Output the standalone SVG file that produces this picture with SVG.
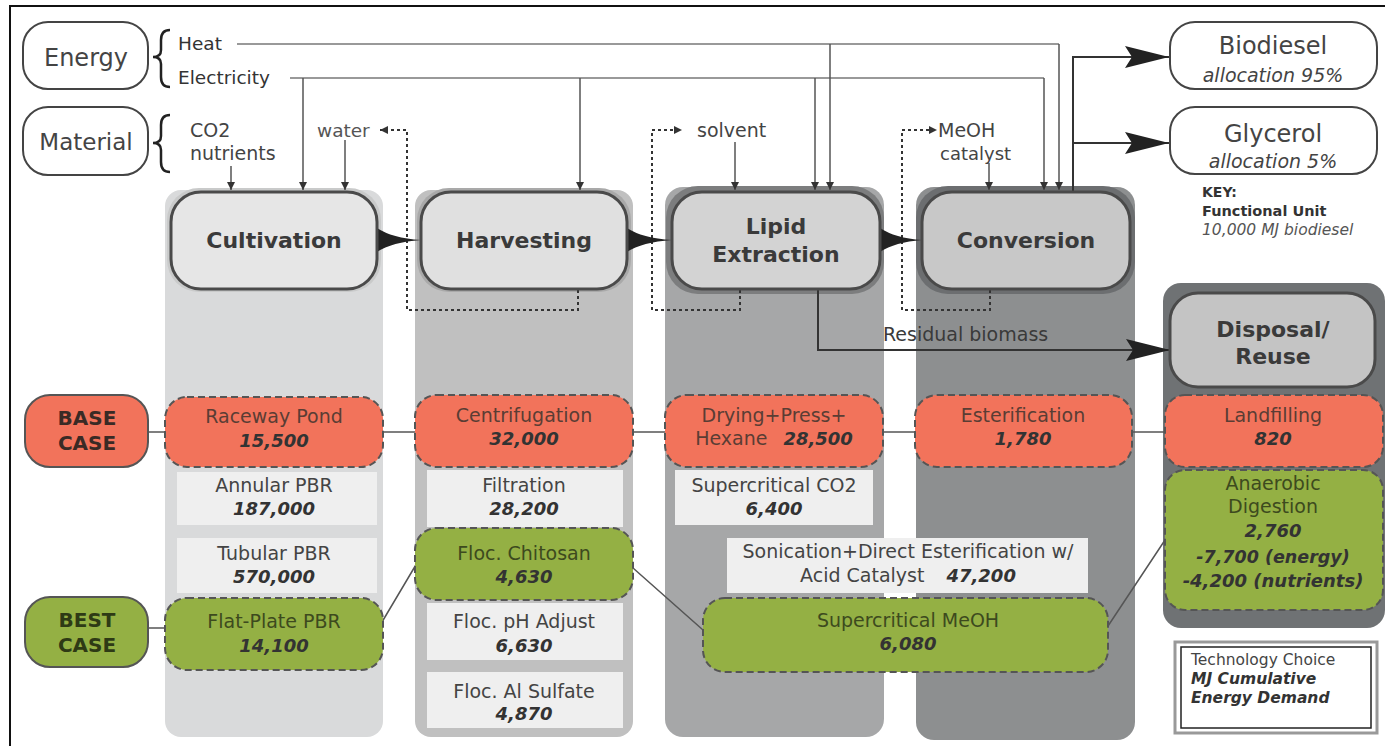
<svg xmlns="http://www.w3.org/2000/svg" width="1387" height="746" viewBox="0 0 1387 746">
<style>
text{font-family:"DejaVu Sans","Liberation Sans",sans-serif;fill:#333}
.c{text-anchor:middle}
.proc{font-weight:bold;font-size:22px;fill:#3a3a3a}
.lbl{font-size:19px;fill:#444}
.num{font-size:18px;font-weight:bold;font-style:italic;fill:#333}
.pbox{stroke:#4a4a4a;stroke-width:3}
.dash{stroke:#555;stroke-width:2;stroke-dasharray:7 4}
.red{fill:#f2735b}
.grn{fill:#94b044}
.lt{fill:#efefef}
.outl{fill:#fff;stroke:#444;stroke-width:2}
.feed{fill:none;stroke:#999;stroke-width:2}
.drop{fill:none;stroke:#555;stroke-width:1.5;marker-end:url(#sm)}
.rec{fill:none;stroke:#333;stroke-width:2;stroke-dasharray:3 3}
.flow{fill:none;stroke:#333;stroke-width:2}
.row{fill:none;stroke:#555;stroke-width:1.5}
</style>
<defs>
<marker id="sm" viewBox="0 0 8 8" refX="8" refY="4" markerWidth="8" markerHeight="8" markerUnits="userSpaceOnUse" orient="auto"><path d="M0,0 L8,4 L0,8 Z" fill="#333"/></marker>
<marker id="big" viewBox="0 0 44 22" refX="44" refY="11" markerWidth="44" markerHeight="22" markerUnits="userSpaceOnUse" orient="auto"><path d="M0,0 L44,11 L0,22 L7,11 Z" fill="#222"/></marker>
</defs>
<rect width="1387" height="746" fill="#fff"/>
<path d="M10,746 V6 H1385" fill="none" stroke="#111" stroke-width="2"/>

<!-- column backgrounds -->
<g id="columns">
<rect x="165" y="190" width="218" height="547" rx="16" fill="#d9dadb"/>
<rect x="415" y="190" width="218" height="547" rx="16" fill="#c0c0c0"/>
<rect x="665" y="187" width="219" height="550" rx="18" fill="#a6a7a8"/>
<rect x="916" y="187" width="219" height="553" rx="18" fill="#8d8f90"/>
<rect x="167" y="188" width="214" height="104" rx="32" fill="#c9caca"/>
<rect x="417" y="188" width="214" height="104" rx="32" fill="#a9a9a9"/>
<rect x="666" y="186" width="218" height="108" rx="32" fill="#7c7d7e"/>
<rect x="916" y="186" width="219" height="108" rx="32" fill="#6c6e70"/>
<rect x="1163" y="283" width="222" height="345" rx="18" fill="#6f7274"/>
</g>

<g id="connectors">
<!-- energy feeds -->
<path class="feed" d="M237,44 H1059"/>
<path class="feed" d="M290,78 H1044"/>
<path class="drop" d="M1059,44 V190"/>
<path class="drop" d="M1044,78 V190"/>
<path class="drop" d="M830,44 V190"/>
<path class="drop" d="M815,78 V190"/>
<path class="drop" d="M580,78 V190"/>
<path class="drop" d="M303,78 V190"/>
<!-- material feeds -->
<path class="drop" d="M231,166 V190"/>
<path class="drop" d="M345,140 V190"/>
<path class="drop" d="M735,142 V190"/>
<path class="drop" d="M989,163 V190"/>
<!-- recycle loops -->
<path class="rec" d="M578,290 V310 H407 V130 H380" marker-end="url(#sm)"/>
<path class="rec" d="M740,290 V310 H652 V130 H682" marker-end="url(#sm)"/>
<path class="rec" d="M990,290 V310 H902 V130 H937" marker-end="url(#sm)"/>
<!-- process flow arrows -->
<path d="M377,228 Q392,238 421,240 Q392,242 377,252 Z" fill="#222"/>
<path d="M627,228 Q642,238 672,240 Q642,242 627,252 Z" fill="#222"/>
<path d="M880,228 Q895,238 922,240 Q895,242 880,252 Z" fill="#222"/>
<!-- products -->
<path class="flow" d="M1073,192 V57 H1169" marker-end="url(#big)"/>
<path class="flow" d="M1073,143 H1169" marker-end="url(#big)"/>
<!-- residual biomass -->
<path class="flow" d="M818,290 V350 H1170" marker-end="url(#big)"/>
<text x="883" y="341" style="font-size:19px;fill:#3a3a3a">Residual biomass</text>
<!-- base case path -->
<path class="row" d="M148,432 H1165"/>
<!-- best case path -->
<path class="row" d="M148,628 H165 M382,622 L417,563 M633,568 L703,630 M1108,626 L1167,537"/>
</g>

<g id="energy">
<rect class="outl" x="23" y="22" width="125" height="67" rx="25"/>
<text class="c" x="86" y="66" style="font-size:24px;fill:#444">Energy</text>
<path d="M170,30 Q161,30 161,40 L161,50 Q161,57 153,57 Q161,57 161,64 L161,77 Q161,87 170,87" fill="none" stroke="#222" stroke-width="2.5"/>
<text x="178" y="50" style="font-size:18.5px">Heat</text>
<text x="178" y="84" style="font-size:18.5px">Electricity</text>
</g>

<g id="material">
<rect class="outl" x="23" y="107" width="125" height="68" rx="25"/>
<text class="c" x="86" y="150" style="font-size:23px;fill:#444">Material</text>
<path d="M170,115 Q161,115 161,125 L161,136 Q161,143 153,143 Q161,143 161,150 L161,162 Q161,172 170,172" fill="none" stroke="#222" stroke-width="2.5"/>
<text x="190" y="137" style="font-size:19px;fill:#444">CO2</text>
<text x="190" y="160" style="font-size:19px;fill:#444">nutrients</text>
<text x="317" y="137" style="font-size:18.5px;fill:#555">water</text>
<text x="697" y="137" style="font-size:19px;fill:#444">solvent</text>
<text x="938" y="137" style="font-size:19px;fill:#444">MeOH</text>
<text x="940" y="160" style="font-size:18px;fill:#444">catalyst</text>
</g>

<g id="cultivation">
<rect class="pbox" x="171" y="192" width="206" height="97" rx="30" fill="#e6e6e6"/>
<text class="c proc" x="274" y="248">Cultivation</text>
</g>
<g id="harvesting">
<rect class="pbox" x="421" y="192" width="206" height="97" rx="30" fill="#e0e0e0"/>
<text class="c proc" x="524" y="248">Harvesting</text>
</g>
<g id="lipid-extraction">
<rect class="pbox" x="672" y="192" width="208" height="97" rx="30" fill="#d3d3d3"/>
<text class="c proc" x="776" y="234">Lipid</text>
<text class="c proc" x="776" y="262">Extraction</text>
</g>
<g id="conversion">
<rect class="pbox" x="922" y="192" width="208" height="97" rx="30" fill="#c8c8c8"/>
<text class="c proc" x="1026" y="248">Conversion</text>
</g>
<g id="disposal">
<rect class="pbox" x="1170" y="293" width="205" height="94" rx="28" fill="#c4c4c4"/>
<text class="c proc" x="1273" y="337">Disposal/</text>
<text class="c proc" x="1273" y="364">Reuse</text>
</g>

<g id="biodiesel">
<rect class="outl" x="1170" y="22" width="207" height="67" rx="25"/>
<text class="c" x="1273" y="54" style="font-size:24px;fill:#444">Biodiesel</text>
<text class="c" x="1273" y="82" style="font-size:19px;font-style:italic;fill:#444">allocation 95%</text>
</g>
<g id="glycerol">
<rect class="outl" x="1170" y="107" width="207" height="67" rx="25"/>
<text class="c" x="1273" y="142" style="font-size:24px;fill:#444">Glycerol</text>
<text class="c" x="1273" y="168" style="font-size:19px;font-style:italic;fill:#444">allocation 5%</text>
</g>
<g id="key">
<text x="1202" y="197" style="font-size:14px;font-weight:bold">KEY:</text>
<text x="1202" y="216" style="font-size:14.5px;font-weight:bold">Functional Unit</text>
<text x="1202" y="235" style="font-size:15.5px;font-style:italic;fill:#555">10,000 MJ biodiesel</text>
</g>

<g id="base-case">
<rect x="25" y="395" width="123" height="72" rx="25" class="red" stroke="#555" stroke-width="2"/>
<text class="c" x="87" y="425" style="font-size:20px;font-weight:bold;fill:#3a2a25">BASE</text>
<text class="c" x="87" y="450" style="font-size:20px;font-weight:bold;fill:#3a2a25">CASE</text>
</g>
<g id="best-case">
<rect x="25" y="597" width="123" height="70" rx="25" class="grn" stroke="#555" stroke-width="2"/>
<text class="c" x="87" y="627" style="font-size:20px;font-weight:bold;fill:#2e3a15">BEST</text>
<text class="c" x="87" y="652" style="font-size:20px;font-weight:bold;fill:#2e3a15">CASE</text>
</g>

<g id="raceway-pond">
<rect x="165" y="397" width="218" height="70" rx="22" class="red dash"/>
<text class="c lbl" x="274" y="423" style="fill:#5a3d34">Raceway Pond</text>
<text class="c num" x="274" y="447">15,500</text>
</g>
<g id="annular-pbr">
<rect x="177" y="472" width="200" height="53" class="lt"/>
<text class="c lbl" x="274" y="492">Annular PBR</text>
<text class="c num" x="274" y="515">187,000</text>
</g>
<g id="tubular-pbr">
<rect x="177" y="538" width="200" height="55" class="lt"/>
<text class="c lbl" x="274" y="560">Tubular PBR</text>
<text class="c num" x="274" y="583">570,000</text>
</g>
<g id="flat-plate-pbr">
<rect x="165" y="598" width="218" height="72" rx="22" class="grn dash"/>
<text class="c lbl" x="274" y="628" style="fill:#3d4a1e">Flat-Plate PBR</text>
<text class="c num" x="274" y="652">14,100</text>
</g>

<g id="centrifugation">
<rect x="415" y="395" width="218" height="72" rx="22" class="red dash"/>
<text class="c lbl" x="524" y="422" style="fill:#5a3d34">Centrifugation</text>
<text class="c num" x="524" y="445">32,000</text>
</g>
<g id="filtration">
<rect x="427" y="470" width="196" height="57" class="lt"/>
<text class="c lbl" x="524" y="492">Filtration</text>
<text class="c num" x="524" y="515">28,200</text>
</g>
<g id="floc-chitosan">
<rect x="415" y="528" width="218" height="72" rx="22" class="grn dash"/>
<text class="c lbl" x="524" y="560" style="fill:#3d4a1e">Floc. Chitosan</text>
<text class="c num" x="524" y="583">4,630</text>
</g>
<g id="floc-ph">
<rect x="427" y="603" width="196" height="57" class="lt"/>
<text class="c lbl" x="524" y="628">Floc. pH Adjust</text>
<text class="c num" x="524" y="652">6,630</text>
</g>
<g id="floc-al">
<rect x="427" y="672" width="196" height="56" class="lt"/>
<text class="c lbl" x="524" y="698">Floc. Al Sulfate</text>
<text class="c num" x="524" y="720">4,870</text>
</g>

<g id="drying-press-hexane">
<rect x="665" y="395" width="218" height="72" rx="22" class="red dash"/>
<text class="c lbl" x="774" y="422" style="fill:#5a3d34">Drying+Press+</text>
<text class="c lbl" x="774" y="445" style="fill:#5a3d34">Hexane<tspan class="num" dx="16">28,500</tspan></text>
</g>
<g id="supercritical-co2">
<rect x="675" y="470" width="198" height="55" class="lt"/>
<text class="c lbl" x="774" y="492">Supercritical CO2</text>
<text class="c num" x="774" y="515">6,400</text>
</g>
<g id="sonication">
<rect x="727" y="538" width="361" height="55" class="lt"/>
<text class="c lbl" x="908" y="558">Sonication+Direct Esterification w/</text>
<text class="c lbl" x="908" y="582">Acid Catalyst<tspan class="num" dx="22">47,200</tspan></text>
</g>
<g id="supercritical-meoh">
<rect x="703" y="598" width="405" height="74" rx="22" class="grn dash"/>
<text class="c lbl" x="908" y="627" style="fill:#3d4a1e">Supercritical MeOH</text>
<text class="c num" x="908" y="650">6,080</text>
</g>

<g id="esterification">
<rect x="915" y="395" width="217" height="72" rx="22" class="red dash"/>
<text class="c lbl" x="1023" y="422" style="fill:#5a3d34">Esterification</text>
<text class="c num" x="1023" y="445">1,780</text>
</g>

<g id="landfilling">
<rect x="1165" y="395" width="218" height="72" rx="20" class="red dash"/>
<text class="c lbl" x="1273" y="422" style="fill:#5a3d34">Landfilling</text>
<text class="c num" x="1273" y="445">820</text>
</g>
<g id="anaerobic-digestion">
<rect x="1165" y="470" width="218" height="140" rx="20" class="grn dash"/>
<text class="c lbl" x="1273" y="490" style="fill:#3d4a1e">Anaerobic</text>
<text class="c lbl" x="1273" y="513" style="fill:#3d4a1e">Digestion</text>
<text class="c num" x="1273" y="537">2,760</text>
<text class="c num" x="1273" y="563" style="font-size:17.5px">-7,700 (energy)</text>
<text class="c num" x="1273" y="587">-4,200 (nutrients)</text>
</g>

<g id="legend">
<rect x="1175" y="642" width="202" height="91" fill="#fff" stroke="#999" stroke-width="3"/>
<rect x="1181" y="647" width="190" height="81" fill="none" stroke="#222" stroke-width="1.5"/>
<text x="1191" y="665" style="font-size:15.5px;fill:#444">Technology Choice</text>
<text x="1191" y="684" style="font-size:15.5px;font-weight:bold;font-style:italic">MJ Cumulative</text>
<text x="1191" y="703" style="font-size:15.5px;font-weight:bold;font-style:italic">Energy Demand</text>
</g>
</svg>
